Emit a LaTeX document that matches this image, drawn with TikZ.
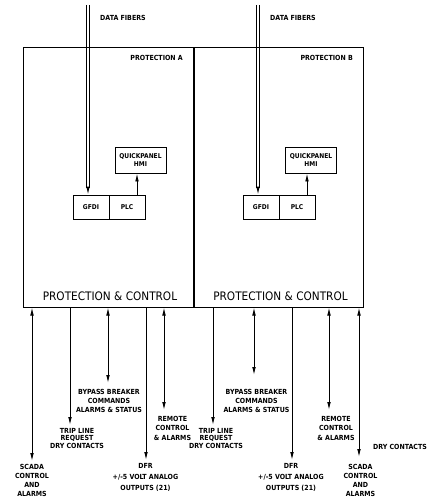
\documentclass[tikz,border=0pt]{standalone}
\usepackage{fontspec}
\setsansfont{DejaVu Sans Condensed}
\usetikzlibrary{arrows.meta}
\tikzset{
  panel/.style={draw, line width=1pt, minimum width=170pt, minimum height=259pt, inner sep=0pt},
  unit/.style={draw, line width=0.9pt, inner sep=0pt, align=center, font=\sffamily\bfseries\fontsize{6.6}{8}\selectfont},
  lbl/.style={align=center, inner sep=0pt, font=\sffamily\bfseries\fontsize{7}{9}\selectfont},
  big/.style={inner sep=0pt, font=\sffamily\fontsize{11.7}{12}\selectfont},
  tip/.style={line width=0.9pt, -{Latex[length=8pt,width=3.6pt]}},
  both/.style={line width=0.9pt, {Latex[length=8pt,width=3.6pt]}-{Latex[length=8pt,width=3.6pt]}},
  fiber/.style={line width=0.8pt}
}
\begin{document}
\begin{tikzpicture}[x=1pt, y=-1pt]
% Protection A / Protection B panels
\useasboundingbox (0,0) rectangle (428,500);
\node[panel] (panA) at (108,177.5) {};
\node[panel, minimum width=169pt] (panB) at (278.5,177.5) {};
\node[lbl, anchor=west] (fibA) at (100,18) {DATA FIBERS};
\node[lbl, anchor=west] (fibB) at (270,18) {DATA FIBERS};
\node[lbl, anchor=east] (protA) at (183,58) {PROTECTION A};
\node[lbl, anchor=east] (protB) at (353,58) {PROTECTION B};
\node[big] (pcA) at (110,296) {PROTECTION \& CONTROL};
\node[big] (pcB) at (280.5,296) {PROTECTION \& CONTROL};
\node[unit, minimum width=51pt, minimum height=26pt] (hmiA) at (140.5,160) {QUICKPANEL\\HMI};
\node[unit, minimum width=36pt, minimum height=24pt] (gfdiA) at (91,207) {GFDI};
\node[unit, minimum width=36pt, minimum height=24pt] (plcA) at (127,207) {PLC};
\node[unit, minimum width=51pt, minimum height=26pt] (hmiB) at (311,160) {QUICKPANEL\\HMI};
\node[unit, minimum width=36pt, minimum height=24pt] (gfdiB) at (261,207) {GFDI};
\node[unit, minimum width=36pt, minimum height=24pt] (plcB) at (297,207) {PLC};
\coordinate (topA) at (88,5);
\coordinate (topB) at (258,5);
\draw[fiber] ([xshift=-1.2pt]topA) -- ([xshift=-1.2pt,yshift=7pt]topA |- gfdiA.north);
\draw[fiber] ([xshift=1.2pt]topA) -- ([xshift=1.2pt,yshift=7pt]topA |- gfdiA.north);
\draw[tip] ([yshift=8pt]topA |- gfdiA.north) -- (topA |- gfdiA.north);
\draw[fiber] ([xshift=-1.2pt]topB) -- ([xshift=-1.2pt,yshift=7pt]topB |- gfdiB.north);
\draw[fiber] ([xshift=1.2pt]topB) -- ([xshift=1.2pt,yshift=7pt]topB |- gfdiB.north);
\draw[tip] ([yshift=8pt]topB |- gfdiB.north) -- (topB |- gfdiB.north);
\draw[tip] ([xshift=10pt]plcA.north) -- ([xshift=10pt]plcA.north |- hmiA.south);
\draw[tip] ([xshift=10pt]plcB.north) -- ([xshift=10pt]plcB.north |- hmiB.south);
\node[lbl, anchor=north] (scadaA) at (32,464) {SCADA\\CONTROL\\AND\\ALARMS};
\node[lbl, anchor=north, font=\sffamily\bfseries\fontsize{7}{7.5}\selectfont] (tripA) at (77,428) {TRIP LINE\\REQUEST\\DRY CONTACTS};
\node[lbl, anchor=north] (bypassA) at (109,389) {BYPASS BREAKER\\COMMANDS\\ALARMS \& STATUS};
\node[lbl, anchor=north, font=\sffamily\bfseries\fontsize{7}{11}\selectfont] (dfrA) at (145.5,463) {DFR\\+/-5 VOLT ANALOG\\OUTPUTS (21)};
\node[lbl, anchor=north, font=\sffamily\bfseries\fontsize{7}{9.5}\selectfont] (remoteA) at (172.5,416) {REMOTE\\CONTROL\\\& ALARMS};
\node[lbl, anchor=north, font=\sffamily\bfseries\fontsize{7}{7.5}\selectfont] (tripB) at (216,428) {TRIP LINE\\REQUEST\\DRY CONTACTS};
\node[lbl, anchor=north] (bypassB) at (256.5,389) {BYPASS BREAKER\\COMMANDS\\ALARMS \& STATUS};
\node[lbl, anchor=north, font=\sffamily\bfseries\fontsize{7}{11}\selectfont] (dfrB) at (291,463) {DFR\\+/-5 VOLT ANALOG\\OUTPUTS (21)};
\node[lbl, anchor=north, font=\sffamily\bfseries\fontsize{7}{9.5}\selectfont] (remoteB) at (336,416) {REMOTE\\CONTROL\\\& ALARMS};
\node[lbl, anchor=north] (scadaB) at (360.5,464) {SCADA\\CONTROL\\AND\\ALARMS};
\node[lbl] (dryB) at (400,447) {DRY CONTACTS};
\coordinate (scadaAend) at (32,461);
\coordinate (tripAend) at (70,425);
\coordinate (bypassAend) at (108,383);
\coordinate (dfrAend) at (146,460);
\coordinate (remoteAend) at (164,410);
\coordinate (tripBend) at (213,425);
\coordinate (bypassBend) at (254,375);
\coordinate (dfrBend) at (292,460);
\coordinate (remoteBend) at (329,410);
\coordinate (scadaBend) at (359,457);
\draw[both] (panA.south -| scadaAend) -- (scadaAend);
\draw[tip] (panA.south -| tripAend) -- (tripAend);
\draw[both] (panA.south -| bypassAend) -- (bypassAend);
\draw[tip] (panA.south -| dfrAend) -- (dfrAend);
\draw[both] (panA.south -| remoteAend) -- (remoteAend);
\draw[tip] (panB.south -| tripBend) -- (tripBend);
\draw[both] (panB.south -| bypassBend) -- (bypassBend);
\draw[tip] (panB.south -| dfrBend) -- (dfrBend);
\draw[both] (panB.south -| remoteBend) -- (remoteBend);
\draw[both] (panB.south -| scadaBend) -- (scadaBend);
\end{tikzpicture}
\end{document}
